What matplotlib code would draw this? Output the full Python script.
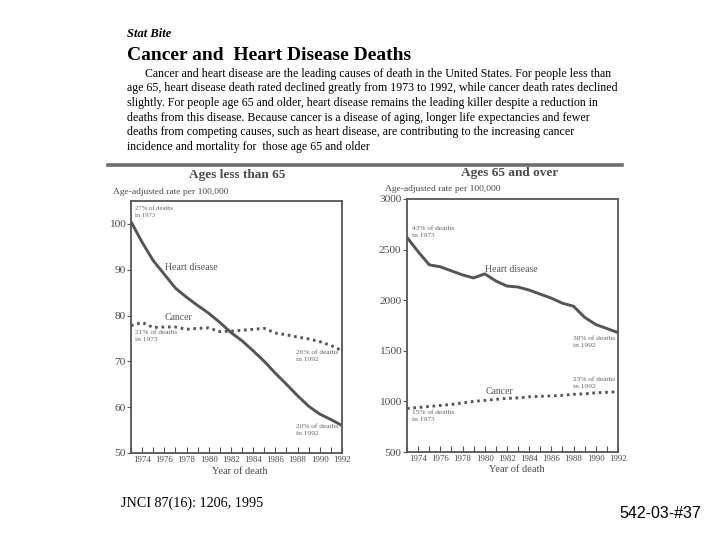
import numpy as np
import matplotlib
matplotlib.use("Agg")
import matplotlib.pyplot as plt
from matplotlib.lines import Line2D

# data
years = list(range(1973, 1993))
heart_under65 = [100.5, 96, 92, 89, 86, 84, 82.2, 80.5, 78.5, 76.3,
                 74.5, 72.3, 70, 67.4, 65, 62.5, 60.2, 58.5, 57.3, 56]
cancer_under65 = [77.8, 78.5, 77.4, 77.5, 77.5, 77, 77.2, 77.3, 76.5, 76.6,
                  76.8, 77, 77.2, 76.2, 75.8, 75.3, 74.9, 74.3, 73.5, 72.3]
heart_65over = [2620, 2480, 2350, 2330, 2290, 2250, 2220, 2260, 2190, 2140,
                2130, 2100, 2060, 2020, 1970, 1940, 1830, 1760, 1720, 1680]
cancer_65over = [930, 940, 950, 960, 970, 985, 1000, 1010, 1020, 1030,
                 1035, 1045, 1050, 1055, 1060, 1070, 1075, 1085, 1090, 1095]
year_labels = list(range(1974, 1993, 2))

W, H = 720, 540
SERIF = "Liberation Serif"
LINE = "#555555"
TXT = "#4a4a4a"

fig = plt.figure(figsize=(W / 100, H / 100), dpi=100)
fig.patch.set_facecolor("white")


def px(x, y):
    return x / W, 1 - y / H


def ftext(x, y, s, **kw):
    kw.setdefault("family", SERIF)
    fig.text(*px(x, y), s, **kw)


# header text
ftext(127, 34, "Stat Bite", fontsize=9, fontweight="bold", style="italic", va="center")
ftext(127, 56, "Cancer and  Heart Disease Deaths", fontsize=14, fontweight="bold", va="center")
body = [
    "Cancer and heart disease are the leading causes of death in the United States. For people less than",
    "age 65, heart disease death rated declined greatly from 1973 to 1992, while cancer death rates declined",
    "slightly. For people age 65 and older, heart disease remains the leading killer despite a reduction in",
    "deaths from this disease. Because cancer is a disease of aging, longer life expectancies and fewer",
    "deaths from competing causes, such as heart disease, are contributing to the increasing cancer",
    "incidence and mortality for  those age 65 and older",
]
for i, line in enumerate(body):
    x0 = 145 if i == 0 else 127
    ftext(x0, 74 + i * 14.5, line, fontsize=8.6, va="center")

# gray rule above the panels
fig.add_artist(Line2D([108 / W, 622 / W], [1 - 165 / H] * 2, color="#6e6e6e", lw=2.6,
                      transform=fig.transFigure))


def panel(left, top, right, bottom, heart, cancer, ylim, yticks):
    ax = fig.add_axes([left / W, 1 - bottom / H, (right - left) / W, (bottom - top) / H])
    ax.plot(years, heart, color=LINE, lw=2.1, solid_capstyle="butt")
    ax.plot(years, cancer, color=LINE, lw=2.1, linestyle=(0, (0.9, 1.3)))
    ax.set_xlim(1973, 1992)
    ax.set_ylim(*ylim)
    ax.set_yticks(yticks)
    ax.set_xticks(year_labels)
    ax.set_xticks(years, minor=True)
    ax.tick_params(axis="x", which="both", direction="in", length=4, width=0.8,
                   colors=LINE, labelcolor=TXT, labelsize=6.4, pad=2)
    ax.tick_params(axis="y", direction="out", length=3, width=0.8, colors=LINE,
                   labelcolor=TXT, labelsize=8.2, pad=1)
    for lab in ax.get_xticklabels() + ax.get_yticklabels():
        lab.set_family(SERIF)
    for sp in ax.spines.values():
        sp.set_color("#555555")
        sp.set_linewidth(1.3)
    return ax


panel(131, 201, 342, 453, heart_under65, cancer_under65, (50, 105), [50, 60, 70, 80, 90, 100])
panel(407, 199, 618, 452, heart_65over, cancer_65over, (500, 3000), [500, 1000, 1500, 2000, 2500, 3000])

# panel titles and axis texts
ftext(237, 175, "Ages less than 65", fontsize=9.5, fontweight="bold", color=TXT, ha="center", va="center")
ftext(510, 173, "Ages 65 and over", fontsize=9.5, fontweight="bold", color=TXT, ha="center", va="center")
ftext(113, 192, "Age-adjusted rate per 100,000", fontsize=6.8, color=TXT, va="center")
ftext(385, 189, "Age-adjusted rate per 100,000", fontsize=6.8, color=TXT, va="center")
ftext(240, 472, "Year of death", fontsize=7.5, color=TXT, ha="center", va="center")
ftext(517, 470, "Year of death", fontsize=7.5, color=TXT, ha="center", va="center")

# annotations inside panels
small = dict(fontsize=5.3, color="#666666", va="top", linespacing=1.5)
ftext(135, 206, "27% of deaths\nin 1973", **dict(small, fontsize=4.8))
ftext(135, 330, "21% of deaths\nin 1973", **small)
ftext(296, 350, "26% of deaths\nin 1992", **small)
ftext(296, 424, "20% of deaths\nin 1992", **small)
ftext(412, 226, "43% of deaths\nin 1973", **small)
ftext(412, 410, "15% of deaths\nin 1973", **small)
ftext(573, 336, "38% of deaths\nin 1992", **small)
ftext(573, 377, "23% of deaths\nin 1992", **small)
lab = dict(fontsize=7, color="#555555", va="center")
ftext(165, 267, "Heart disease", **lab)
ftext(165, 318, "Cancer", **lab)
ftext(485, 270, "Heart disease", **lab)
ftext(486, 392, "Cancer", **lab)

# footer
ftext(121, 503, "JNCI 87(16): 1206, 1995", fontsize=10.2, va="center")
fig.text(*px(619, 513), "542-03-#37", family="Liberation Sans", fontsize=11.5, va="center")

fig.savefig("out.png", dpi=100, facecolor="white")
